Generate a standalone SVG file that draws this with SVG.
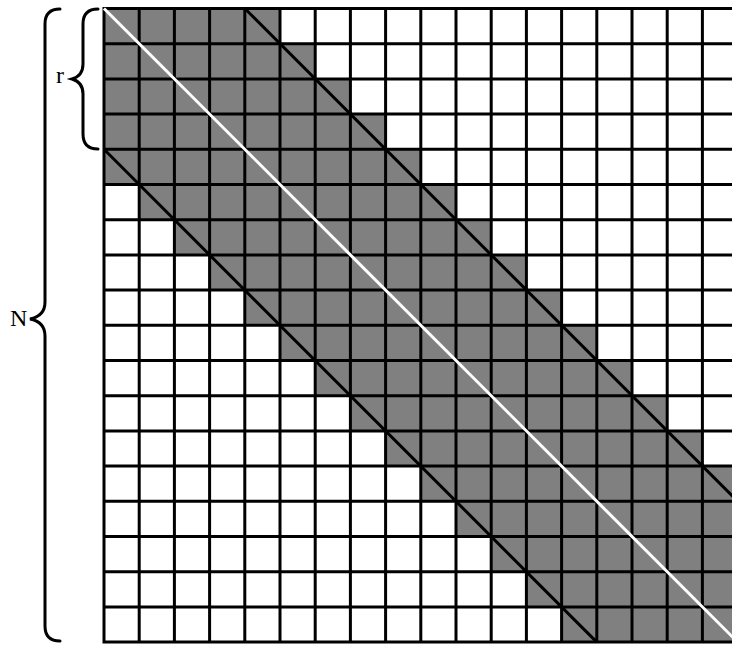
<svg xmlns="http://www.w3.org/2000/svg" width="732" height="646" viewBox="0 0 732 646">
<style>
.grid{fill:none;stroke:#000;stroke-width:3;stroke-linecap:square}
.diag{fill:none;stroke:#000;stroke-width:3}
.main{fill:none;stroke:#fff;stroke-width:3}
.brace{fill:none;stroke:#000;stroke-width:3;stroke-linecap:round}
.lbl{font-family:"Liberation Serif","Times New Roman",serif;font-size:24px;fill:#000}
</style>
<rect width="732" height="646" fill="#fff"/>
<g id="band">
<polygon transform="translate(104,8.5) scale(35.2)" fill="#808080" points="0,0 5,0 5,1 6,1 6,2 7,2 7,3 8,3 8,4 9,4 9,5 10,5 10,6 11,6 11,7 12,7 12,8 13,8 13,9 14,9 14,10 15,10 15,11 16,11 16,12 17,12 17,13 18,13 18,18 13,18 13,17 12,17 12,16 11,16 11,15 10,15 10,14 9,14 9,13 8,13 8,12 7,12 7,11 6,11 6,10 5,10 5,9 4,9 4,8 3,8 3,7 2,7 2,6 1,6 1,5 0,5"/>
</g>
<g id="grid">
<path class="grid" d="M104,8.5V642.1M139.2,8.5V642.1M174.4,8.5V642.1M209.6,8.5V642.1M244.8,8.5V642.1M280,8.5V642.1M315.2,8.5V642.1M350.4,8.5V642.1M385.6,8.5V642.1M420.8,8.5V642.1M456,8.5V642.1M491.2,8.5V642.1M526.4,8.5V642.1M561.6,8.5V642.1M596.8,8.5V642.1M632,8.5V642.1M667.2,8.5V642.1M702.4,8.5V642.1M737.6,8.5V642.1
M104,8.5H737.6M104,43.7H737.6M104,78.9H737.6M104,114.1H737.6M104,149.3H737.6M104,184.5H737.6M104,219.7H737.6M104,254.9H737.6M104,290.1H737.6M104,325.3H737.6M104,360.5H737.6M104,395.7H737.6M104,430.9H737.6M104,466.1H737.6M104,501.3H737.6M104,536.5H737.6M104,571.7H737.6M104,606.9H737.6M104,642.1H737.6"/>
</g>
<g id="diagonals">
<path class="diag" d="M244.8,8.5L737.6,501.3M104,149.3L596.8,642.1"/>
<path class="main" d="M104,8.5L737.6,642.1"/>
</g>
<g id="brace-N">
<path class="brace" d="M60,9C50,9 45,14 45,24L45,302C45,312 40,317 30,319C40,321 45,326 45,336L45,626C45,636 50,641 60,641"/>
<text class="lbl" x="10" y="326">N</text>
</g>
<g id="brace-r">
<path class="brace" d="M98,9C88,9 83,14 83,24L83,64C83,73 79,77 72,79C79,81 83,85 83,94L83,134C83,144 88,149 98,149"/>
<text class="lbl" x="56" y="83">r</text>
</g>
</svg>
